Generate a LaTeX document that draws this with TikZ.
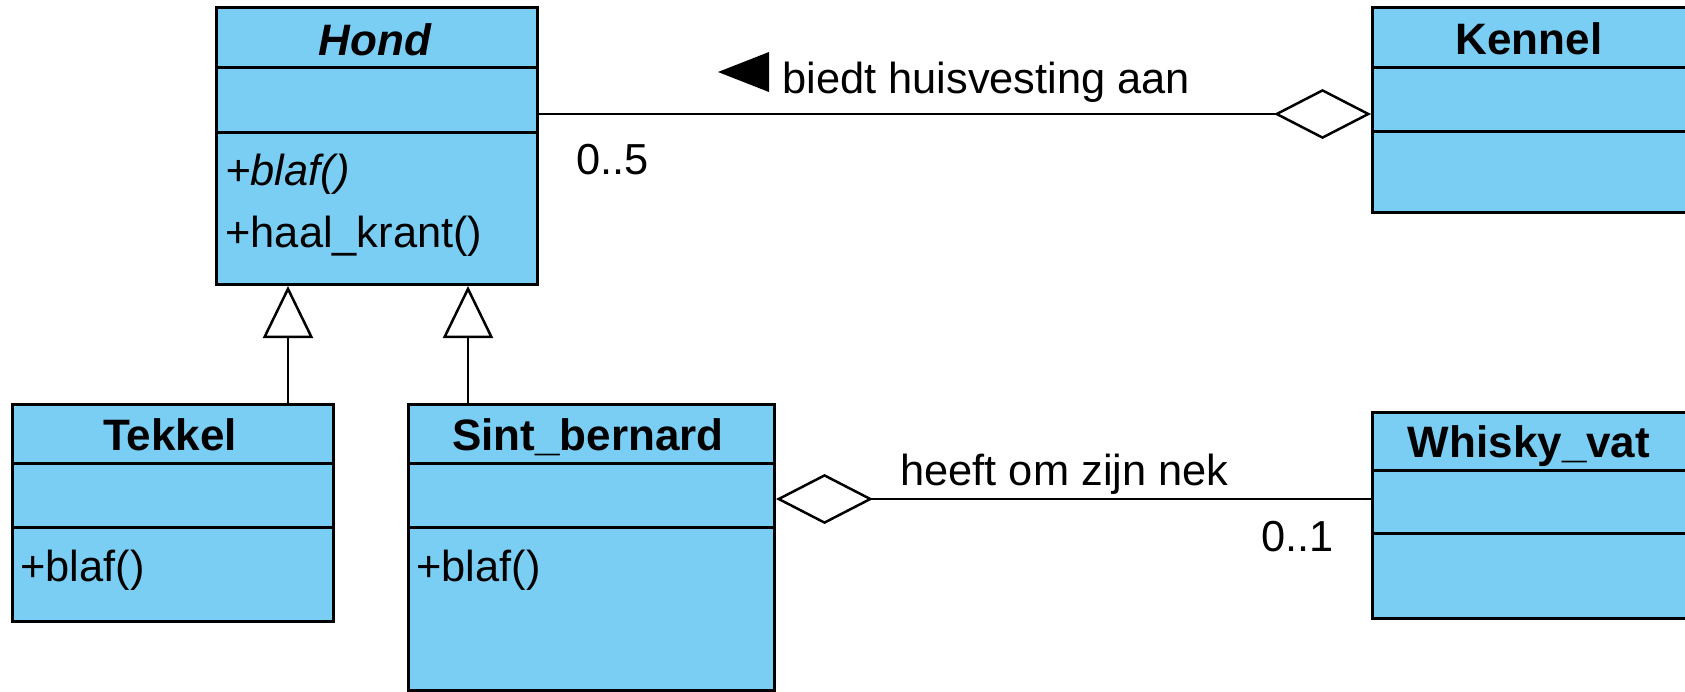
\documentclass[tikz,border=0pt]{standalone}
\usepackage{fontspec}
\setmainfont{Liberation Sans}
\usetikzlibrary{arrows.meta}
\definecolor{classfill}{RGB}{122,206,243}
\tikzset{
  aggr/.tip={Diamond[fill=white,length=48.5pt,width=25pt]},
  genz/.tip={Triangle[fill=white,length=26pt,width=25pt]},
}
\begin{document}
\begin{tikzpicture}[x=0.5pt,y=-0.5pt,
  umlbox/.style={draw=black, fill=classfill, line width=1.5pt, inner sep=0pt, anchor=north west},
  divider/.style={line width=1.5pt},
  conn/.style={line width=1.25pt},
  txt/.style={inner sep=0pt, font=\fontsize{21.7}{25}\selectfont},
  ctitle/.style={inner sep=0pt, font=\fontsize{22}{25}\selectfont\bfseries, anchor=base},
  member/.style={txt, anchor=base west},
  lbl/.style={txt, anchor=base west},
]
\useasboundingbox (0,0) rectangle (1685,691);

% classes
\node[umlbox, minimum width=160.5pt, minimum height=138.5pt] (hond) at (215,6) {};
\node[umlbox, minimum width=159.5pt, minimum height=102.5pt] (kennel) at (1371,6) {};
\node[umlbox, minimum width=160.5pt, minimum height=108.5pt] (tekkel) at (11,403) {};
\node[umlbox, minimum width=183pt, minimum height=143pt] (sint) at (407,403) {};
\node[umlbox, minimum width=159.5pt, minimum height=103pt] (whisky) at (1371,411) {};

% dividers
\draw[divider] (hond.west |- 0,67) -- (hond.east |- 0,67);
\draw[divider] (hond.west |- 0,132) -- (hond.east |- 0,132);
\draw[divider] (kennel.west |- 0,67) -- (kennel.east |- 0,67);
\draw[divider] (kennel.west |- 0,131) -- (kennel.east |- 0,131);
\draw[divider] (tekkel.west |- 0,463) -- (tekkel.east |- 0,463);
\draw[divider] (tekkel.west |- 0,527) -- (tekkel.east |- 0,527);
\draw[divider] (sint.west |- 0,463) -- (sint.east |- 0,463);
\draw[divider] (sint.west |- 0,527) -- (sint.east |- 0,527);
\draw[divider] (whisky.west |- 0,470) -- (whisky.east |- 0,470);
\draw[divider] (whisky.west |- 0,533) -- (whisky.east |- 0,533);

% titles
\node[ctitle, font=\fontsize{22}{25}\selectfont\bfseries\itshape] (hondT) at (375,55) {Hond};
\node[ctitle] (kennelT) at (1529,54) {Kennel};
\node[ctitle] (tekkelT) at (170,450) {Tekkel};
\node[ctitle] (sintT) at (588,450) {Sint\_bernard};
\node[ctitle] (whiskyT) at (1529,457) {Whisky\_vat};

% members
\node[member, font=\fontsize{21.7}{25}\selectfont\itshape] (hondM1) at (225,185) {+blaf()};
\node[member] (hondM2) at (225,247) {+haal\_krant()};
\node[member] (tekkelM1) at (20,581) {+blaf()};
\node[member] (sintM1) at (416,581) {+blaf()};

% generalizations
\draw[conn, genz-] (hond.south -| 288,0) -- (tekkel.north -| 288,0);
\draw[conn, genz-] (hond.south -| 468,0) -- (sint.north -| 468,0);

% aggregations
\draw[conn, aggr-] (kennel.west |- 0,114) -- (hond.east |- 0,114);
\draw[conn, aggr-] (sint.east |- 0,499) -- (whisky.west |- 0,499);

% labels
\node[lbl] (l1) at (782,93) {biedt huisvesting aan};
\fill (718,72) -- (769,52) -- (769,92) -- cycle;
\node[lbl] (m1) at (576,174) {0..5};
\node[lbl] (l2) at (900,485) {heeft om zijn nek};
\node[lbl] (m2) at (1261,551) {0..1};
\end{tikzpicture}
\end{document}
